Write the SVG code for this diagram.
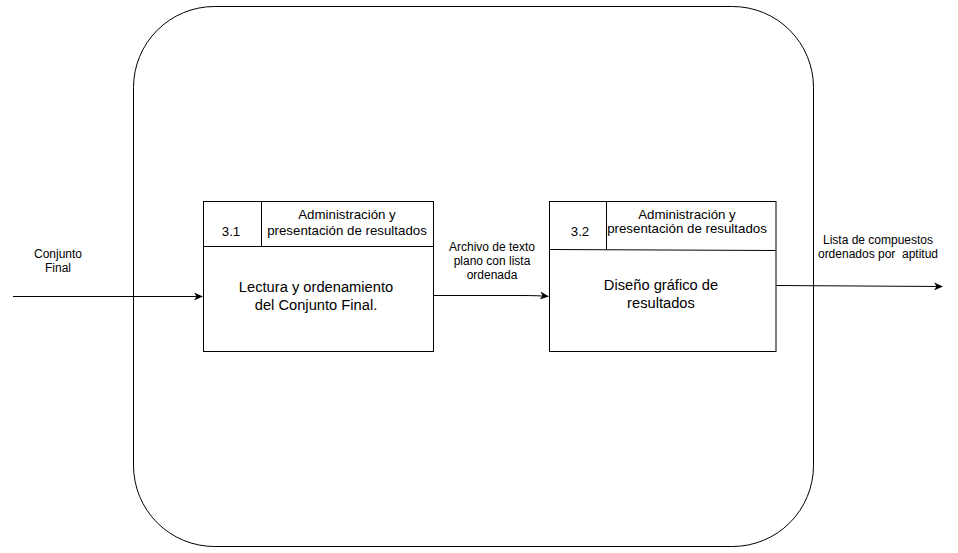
<svg xmlns="http://www.w3.org/2000/svg" width="958" height="553" viewBox="0 0 958 553">
<defs>
<marker id="arr" markerWidth="10" markerHeight="8" refX="8" refY="4" orient="auto" markerUnits="userSpaceOnUse">
<path d="M0,0 L9,4 L0,8 L2.5,4 Z" fill="#000"/>
</marker>
</defs>
<style>
text{font-family:"Liberation Sans",Arial,sans-serif;fill:#000;text-anchor:middle}
.s{font-size:12px}
.h{font-size:13.3px}
.m{font-size:14.7px}
.b{fill:#fff;stroke:#000;stroke-width:1}
.l{fill:none;stroke:#000;stroke-width:1}
</style>
<rect width="958" height="553" fill="#fff"/>
<g id="boundary">
<rect x="133.5" y="6.5" width="680" height="540" rx="81" ry="81" class="b"/>
</g>
<g id="p31">
<rect x="203.5" y="201.5" width="230" height="150" class="b"/>
<line x1="203.5" y1="246.5" x2="433.5" y2="246.5" class="l"/>
<line x1="261.5" y1="201.5" x2="261.5" y2="246.5" class="l"/>
<text x="231" y="236" class="h">3.1</text>
<text x="347" y="219" class="h">Administración y</text>
<text x="347" y="235" class="h">presentación de resultados</text>
<text x="316" y="292" class="m">Lectura y ordenamiento</text>
<text x="316" y="310" class="m">del Conjunto Final.</text>
</g>
<g id="p32">
<rect x="549.5" y="201.5" width="226.5" height="150" class="b"/>
<line x1="549.5" y1="249.5" x2="776" y2="250.5" class="l"/>
<line x1="606.5" y1="201.5" x2="606.5" y2="249.5" class="l"/>
<text x="580" y="236" class="h">3.2</text>
<text x="687" y="219" class="h">Administración y</text>
<text x="687" y="233" class="h">presentación de resultados</text>
<text x="661" y="290" class="m">Diseño gráfico de</text>
<text x="661" y="308" class="m">resultados</text>
</g>
<g id="connectors">
<path d="M13,296.5 L202,296.5" class="l" marker-end="url(#arr)"/>
<path d="M433.5,295.5 L520,295.5 Q540,295.5 548,296.5" class="l" marker-end="url(#arr)"/>
<path d="M776,285.5 L942,286.5" class="l" marker-end="url(#arr)"/>
<text x="58" y="258" class="s">Conjunto</text>
<text x="58" y="272" class="s">Final</text>
<text x="492" y="251" class="s">Archivo de texto</text>
<text x="492" y="265" class="s">plano con lista</text>
<text x="492" y="279" class="s">ordenada</text>
<text x="878" y="244" class="s">Lista de compuestos</text>
<text x="878" y="258" class="s" xml:space="preserve">ordenados por  aptitud</text>
</g>
</svg>
